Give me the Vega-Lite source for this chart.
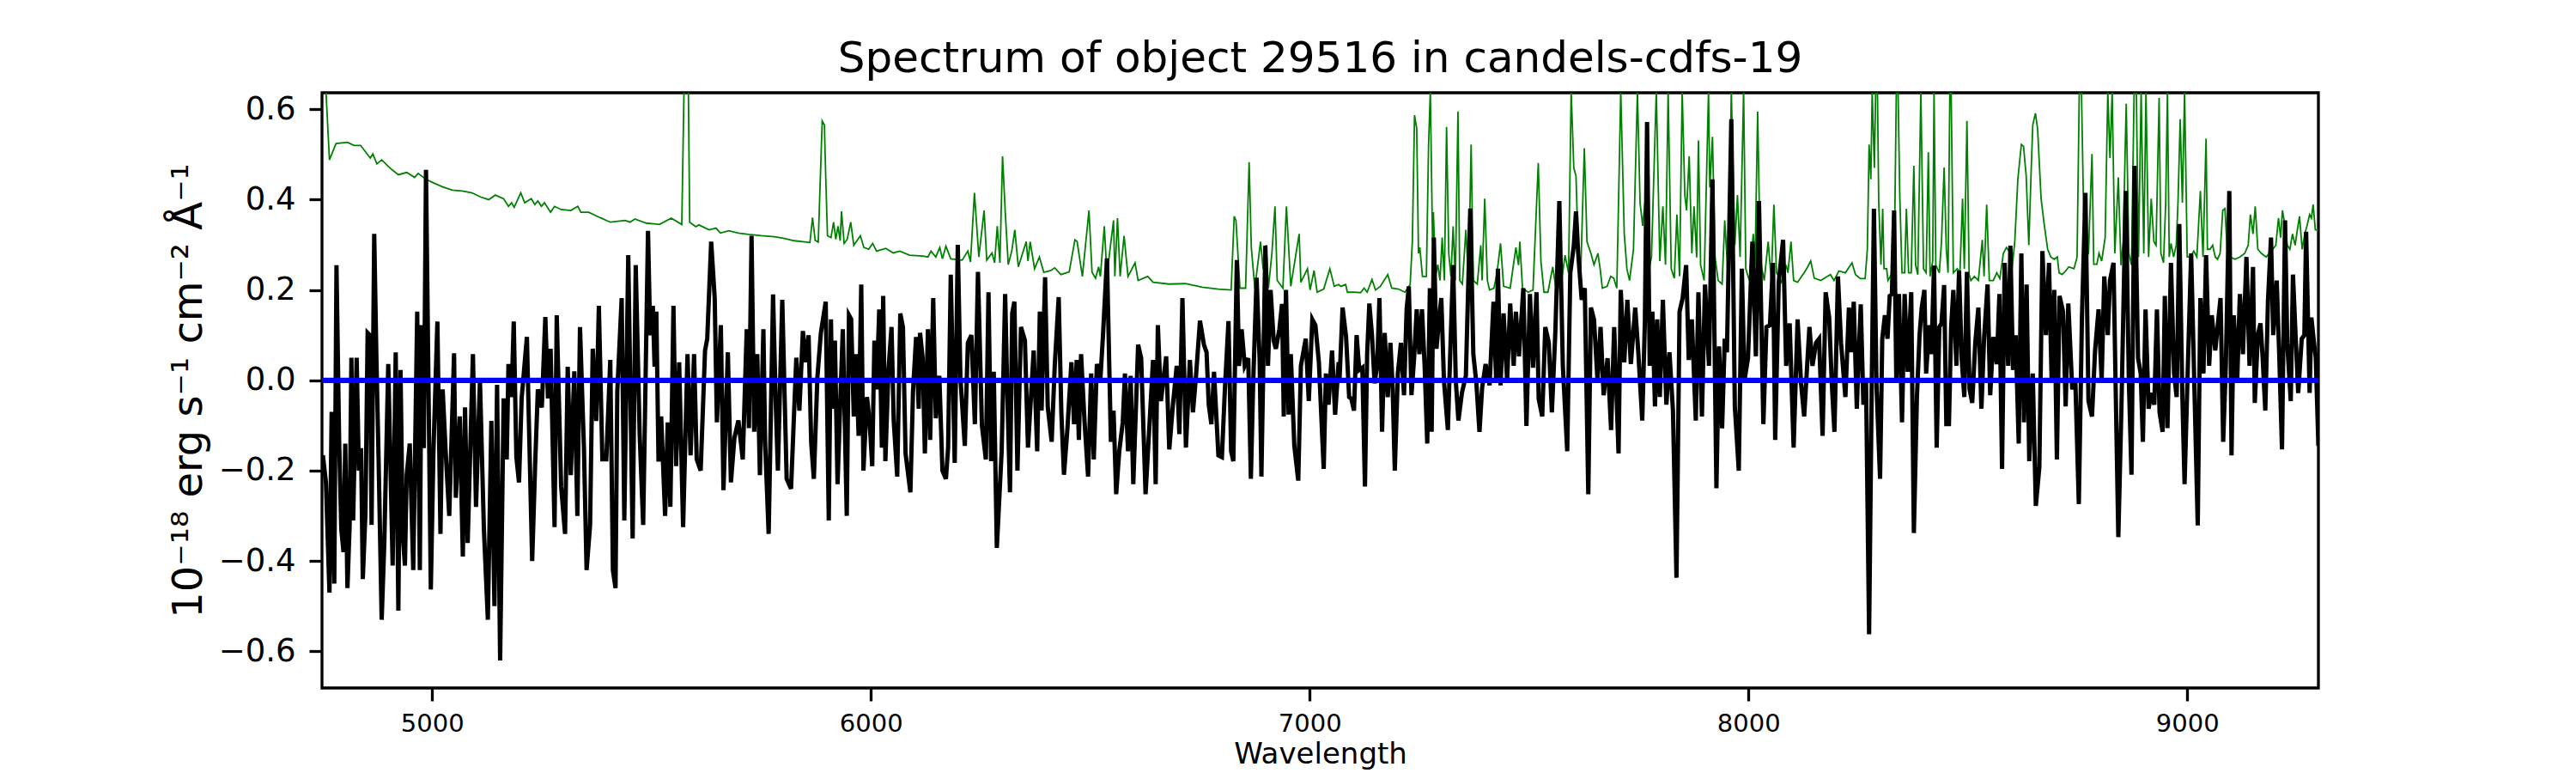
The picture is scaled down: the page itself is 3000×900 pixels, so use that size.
{
  "$schema": "https://vega.github.io/schema/vega-lite/v6.json",
  "description": "Spectrum of object 29516 in candels-cdfs-19: flux (black), error (green), zero level (blue)",
  "background": "white",
  "autosize": {"type": "none"},
  "padding": {"left": 375, "top": 108, "right": 300, "bottom": 99},
  "width": 2325,
  "height": 693,
  "title": {
    "text": "Spectrum of object 29516 in candels-cdfs-19",
    "fontSize": 50,
    "fontWeight": "normal",
    "color": "black",
    "anchor": "middle",
    "offset": 14
  },
  "datasets": {
    "flux": [
      {"w":4751,"f":-0.166},{"w":4758,"f":-0.226},{"w":4766,"f":-0.47},{"w":4771,"f":-0.07},{"w":4777,"f":-0.45},{"w":4782,"f":0.255},{"w":4788,"f":-0.13},{"w":4793,"f":-0.33},{"w":4798,"f":-0.38},{"w":4802,"f":-0.14},
      {"w":4807,"f":-0.46},{"w":4812,"f":-0.32},{"w":4816,"f":0.05},{"w":4820,"f":-0.31},{"w":4828,"f":0.05},{"w":4833,"f":-0.2},{"w":4838,"f":-0.15},{"w":4842,"f":-0.44},{"w":4848,"f":-0.295},{"w":4853,"f":0.105},
      {"w":4858,"f":0.1},{"w":4862,"f":-0.32},{"w":4868,"f":0.324},{"w":4873,"f":0.05},{"w":4878,"f":-0.175},{"w":4885,"f":-0.53},{"w":4891,"f":-0.36},{"w":4900,"f":0.036},{"w":4910,"f":-0.41},{"w":4917,"f":0.062},
      {"w":4923,"f":-0.51},{"w":4928,"f":0.023},{"w":4933,"f":-0.34},{"w":4938,"f":-0.41},{"w":4942,"f":-0.21},{"w":4949,"f":-0.14},{"w":4957,"f":-0.42},{"w":4966,"f":0.152},{"w":4972,"f":-0.42},{"w":4976,"f":0.122},
      {"w":4981,"f":-0.15},{"w":4986,"f":0.466},{"w":4992,"f":-0.037},{"w":4997,"f":-0.463},{"w":5003,"f":-0.157},{"w":5012,"f":0.13},{"w":5019,"f":-0.34},{"w":5024,"f":-0.02},{"w":5031,"f":-0.16},{"w":5039,"f":-0.3},
      {"w":5050,"f":0.06},{"w":5054,"f":-0.26},{"w":5063,"f":-0.08},{"w":5070,"f":-0.39},{"w":5075,"f":-0.06},{"w":5081,"f":-0.36},{"w":5093,"f":0.058},{"w":5100,"f":-0.28},{"w":5109,"f":0.0},{"w":5118,"f":-0.33},
      {"w":5127,"f":-0.53},{"w":5135,"f":-0.09},{"w":5142,"f":-0.5},{"w":5148,"f":-0.01},{"w":5155,"f":-0.62},{"w":5163,"f":-0.04},{"w":5170,"f":-0.175},{"w":5174,"f":0.036},{"w":5181,"f":-0.037},{"w":5186,"f":0.13},
      {"w":5192,"f":-0.17},{"w":5198,"f":-0.226},{"w":5204,"f":-0.04},{"w":5216,"f":0.096},{"w":5228,"f":-0.4},{"w":5235,"f":-0.18},{"w":5241,"f":-0.02},{"w":5250,"f":-0.06},{"w":5258,"f":0.14},{"w":5264,"f":-0.04},
      {"w":5270,"f":0.07},{"w":5279,"f":-0.325},{"w":5284,"f":0.144},{"w":5294,"f":-0.235},{"w":5303,"f":-0.34},{"w":5309,"f":0.03},{"w":5316,"f":-0.21},{"w":5324,"f":0.02},{"w":5331,"f":-0.3},{"w":5337,"f":0.118},
      {"w":5346,"f":-0.15},{"w":5352,"f":-0.42},{"w":5360,"f":-0.32},{"w":5366,"f":0.07},{"w":5374,"f":-0.09},{"w":5380,"f":0.165},{"w":5388,"f":-0.175},{"w":5397,"f":-0.175},{"w":5406,"f":0.045},{"w":5412,"f":-0.42},
      {"w":5418,"f":-0.46},{"w":5422,"f":-0.024},{"w":5432,"f":0.182},{"w":5438,"f":-0.31},{"w":5447,"f":0.277},{"w":5457,"f":-0.35},{"w":5464,"f":0.255},{"w":5473,"f":-0.12},{"w":5481,"f":-0.32},{"w":5492,"f":0.331},
      {"w":5497,"f":0.1},{"w":5503,"f":0.165},{"w":5507,"f":0.03},{"w":5511,"f":0.152},{"w":5516,"f":-0.18},{"w":5522,"f":-0.08},{"w":5531,"f":-0.3},{"w":5537,"f":-0.093},{"w":5543,"f":-0.28},{"w":5550,"f":0.165},
      {"w":5556,"f":-0.19},{"w":5563,"f":0.04},{"w":5572,"f":-0.325},{"w":5582,"f":0.058},{"w":5589,"f":-0.166},{"w":5597,"f":0.058},{"w":5603,"f":-0.175},{"w":5612,"f":-0.2},{"w":5622,"f":0.066},{"w":5627,"f":0.092},
      {"w":5636,"f":0.307},{"w":5644,"f":0.182},{"w":5649,"f":-0.093},{"w":5658,"f":0.122},{"w":5664,"f":-0.243},{"w":5674,"f":0.062},{"w":5681,"f":-0.226},{"w":5689,"f":-0.127},{"w":5698,"f":-0.089},{"w":5708,"f":-0.175},
      {"w":5717,"f":0.113},{"w":5722,"f":-0.106},{"w":5728,"f":0.32},{"w":5734,"f":-0.114},{"w":5741,"f":0.058},{"w":5747,"f":-0.21},{"w":5755,"f":0.113},{"w":5759,"f":-0.14},{"w":5767,"f":-0.34},{"w":5777,"f":0.19},
      {"w":5783,"f":-0.046},{"w":5788,"f":-0.2},{"w":5798,"f":0.178},{"w":5808,"f":-0.218},{"w":5818,"f":-0.24},{"w":5830,"f":0.05},{"w":5837,"f":-0.067},{"w":5845,"f":0.109},{"w":5852,"f":0.04},{"w":5858,"f":0.1},
      {"w":5864,"f":-0.14},{"w":5870,"f":-0.218},{"w":5878,"f":0.006},{"w":5886,"f":0.105},{"w":5897,"f":0.174},{"w":5904,"f":-0.31},{"w":5909,"f":0.135},
      {"w":5912,"f":-0.063},{"w":5918,"f":0.088},{"w":5924,"f":-0.23},{"w":5930,"f":-0.054},{"w":5936,"f":0.113},{"w":5945,"f":-0.3},{"w":5950,"f":0.144},{"w":5955,"f":0.135},{"w":5961,"f":-0.08},{"w":5966,"f":0.058},
      {"w":5972,"f":-0.123},{"w":5978,"f":0.212},{"w":5983,"f":-0.2},{"w":5991,"f":-0.037},{"w":5997,"f":-0.089},{"w":6003,"f":-0.19},{"w":6008,"f":0.088},{"w":6013,"f":-0.02},{"w":6019,"f":0.157},{"w":6025,"f":-0.149},
      {"w":6028,"f":0.187},{"w":6033,"f":-0.179},{"w":6040,"f":0.023},{"w":6047,"f":0.118},{"w":6052,"f":-0.089},{"w":6060,"f":-0.213},{"w":6067,"f":0.148},{"w":6073,"f":0.118},{"w":6079,"f":-0.162},{"w":6085,"f":-0.209},
      {"w":6090,"f":-0.248},{"w":6096,"f":-0.024},{"w":6103,"f":0.096},{"w":6109,"f":-0.063},{"w":6112,"f":0.105},{"w":6118,"f":0.049},{"w":6123,"f":-0.162},{"w":6130,"f":0.113},{"w":6135,"f":-0.132},{"w":6142,"f":0.182},
      {"w":6148,"f":-0.084},{"w":6156,"f":0.01},{"w":6163,"f":-0.2},{"w":6171,"f":-0.218},{"w":6176,"f":-0.149},{"w":6182,"f":0.234},{"w":6191,"f":-0.183},{"w":6198,"f":0.3},{"w":6204,"f":0.006},{"w":6214,"f":-0.145},
      {"w":6221,"f":0.083},{"w":6229,"f":0.1},{"w":6237,"f":-0.097},{"w":6244,"f":0.24},{"w":6253,"f":-0.1},{"w":6262,"f":-0.175},{"w":6268,"f":0.195},{"w":6274,"f":-0.179},{"w":6280,"f":0.019},{"w":6287,"f":-0.371},
      {"w":6298,"f":-0.157},{"w":6306,"f":0.191},{"w":6311,"f":-0.033},{"w":6317,"f":-0.248},{"w":6322,"f":0.148},{"w":6327,"f":0.174},{"w":6334,"f":-0.2},{"w":6342,"f":0.118},{"w":6351,"f":0.088},{"w":6358,"f":-0.149},
      {"w":6371,"f":0.066},{"w":6379,"f":-0.157},{"w":6385,"f":0.152},{"w":6389,"f":-0.067},{"w":6397,"f":0.228},{"w":6403,"f":-0.058},{"w":6412,"f":-0.136},{"w":6419,"f":0.032},{"w":6428,"f":0.184},{"w":6434,"f":-0.071},
      {"w":6440,"f":-0.209},{"w":6448,"f":-0.106},{"w":6457,"f":0.04},{"w":6463,"f":-0.097},{"w":6469,"f":0.045},{"w":6474,"f":-0.132},{"w":6479,"f":0.058},{"w":6487,"f":-0.093},{"w":6495,"f":-0.213},{"w":6502,"f":0.015},
      {"w":6508,"f":-0.175},{"w":6515,"f":0.036},{"w":6523,"f":0.002},{"w":6529,"f":0.1},{"w":6538,"f":0.27},{"w":6547,"f":-0.136},{"w":6553,"f":-0.067},{"w":6559,"f":-0.252},{"w":6566,"f":-0.157},{"w":6574,"f":-0.093},
      {"w":6579,"f":0.015},{"w":6586,"f":-0.157},{"w":6592,"f":0.01},{"w":6598,"f":-0.23},{"w":6609,"f":0.079},{"w":6616,"f":0.049},{"w":6626,"f":-0.252},{"w":6635,"f":-0.097},{"w":6643,"f":0.045},{"w":6649,"f":-0.23},
      {"w":6654,"f":0.122},{"w":6661,"f":-0.046},{"w":6673,"f":0.053},{"w":6680,"f":-0.153},{"w":6688,"f":-0.058},{"w":6697,"f":0.032},{"w":6703,"f":-0.119},{"w":6710,"f":0.182},{"w":6718,"f":-0.149},{"w":6727,"f":0.045},
      {"w":6734,"f":-0.071},{"w":6741,"f":0.01},{"w":6750,"f":0.132},{"w":6759,"f":0.079},{"w":6765,"f":0.062},{"w":6770,"f":-0.054},{"w":6776,"f":-0.097},{"w":6782,"f":0.019},{"w":6792,"f":-0.166},{"w":6800,"f":-0.17},
      {"w":6807,"f":-0.015},{"w":6815,"f":0.131},{"w":6821,"f":-0.157},{"w":6826,"f":-0.179},{"w":6834,"f":0.266},{"w":6839,"f":0.032},{"w":6845,"f":0.113},{"w":6852,"f":0.032},{"w":6860,"f":0.049},{"w":6866,"f":-0.218},
      {"w":6871,"f":-0.015},{"w":6879,"f":0.227},{"w":6886,"f":0.045},{"w":6890,"f":-0.213},{"w":6899,"f":0.298},{"w":6905,"f":0.032},{"w":6911,"f":0.2},{"w":6918,"f":0.088},{"w":6923,"f":0.07},{"w":6931,"f":0.113},
      {"w":6937,"f":0.169},{"w":6941,"f":-0.08},{"w":6946,"f":0.2},{"w":6952,"f":-0.076},{"w":6957,"f":0.058},{"w":6965,"f":-0.145},{"w":6974,"f":-0.222},{"w":6980,"f":0.032},{"w":6991,"f":0.092},{"w":6998,"f":-0.046},
      {"w":7006,"f":0.135},{"w":7013,"f":0.122},{"w":7021,"f":0.04},{"w":7032,"f":-0.196},{"w":7037,"f":0.015},{"w":7043,"f":-0.054},{"w":7051,"f":0.066},{"w":7058,"f":-0.076},{"w":7066,"f":0.04},
      {"w":7068,"f":0.0},{"w":7075,"f":0.161},{"w":7083,"f":0.096},{"w":7090,"f":-0.037},{"w":7095,"f":-0.041},{"w":7101,"f":-0.067},{"w":7107,"f":0.1},{"w":7113,"f":0.023},{"w":7120,"f":0.028},{"w":7126,"f":-0.235},
      {"w":7131,"f":0.058},{"w":7136,"f":0.17},{"w":7142,"f":0.1},{"w":7148,"f":-0.007},{"w":7154,"f":0.036},{"w":7159,"f":0.182},{"w":7165,"f":-0.114},{"w":7171,"f":0.105},{"w":7178,"f":-0.037},{"w":7184,"f":0.083},
      {"w":7189,"f":-0.011},{"w":7194,"f":-0.2},{"w":7201,"f":0.015},{"w":7208,"f":0.083},{"w":7215,"f":-0.033},{"w":7221,"f":0.157},{"w":7226,"f":0.208},{"w":7232,"f":-0.033},{"w":7238,"f":0.049},{"w":7244,"f":0.157},
      {"w":7250,"f":0.058},{"w":7256,"f":0.157},{"w":7262,"f":0.032},{"w":7268,"f":-0.14},{"w":7274,"f":0.204},{"w":7278,"f":-0.114},{"w":7283,"f":0.316},{"w":7289,"f":0.07},{"w":7294,"f":0.126},{"w":7300,"f":0.182},
      {"w":7306,"f":0.0},{"w":7315,"f":-0.11},{"w":7320,"f":0.049},{"w":7327,"f":0.255},{"w":7333,"f":0.0},{"w":7339,"f":-0.089},{"w":7347,"f":-0.028},{"w":7356,"f":0.01},{"w":7366,"f":0.38},{"w":7373,"f":0.058},
      {"w":7380,"f":-0.007},{"w":7387,"f":-0.114},{"w":7393,"f":-0.017},{"w":7401,"f":0.036},{"w":7410,"f":-0.011},{"w":7419,"f":0.174},{"w":7425,"f":0.0},{"w":7429,"f":0.247},{"w":7435,"f":-0.011},{"w":7442,"f":0.148},
      {"w":7450,"f":0.0},{"w":7457,"f":0.17},{"w":7465,"f":0.032},{"w":7470,"f":0.152},{"w":7477,"f":0.053},{"w":7487,"f":0.204},{"w":7494,"f":-0.101},{"w":7502,"f":0.191},{"w":7509,"f":0.028},{"w":7517,"f":0.195},
      {"w":7522,"f":-0.041},{"w":7530,"f":-0.08},{"w":7537,"f":0.118},{"w":7545,"f":0.083},{"w":7552,"f":-0.071},{"w":7560,"f":0.109},{"w":7569,"f":0.397},{"w":7577,"f":0.032},{"w":7587,"f":-0.157},{"w":7594,"f":0.238},
      {"w":7602,"f":0.298},{"w":7607,"f":0.374},{"w":7612,"f":0.281},{"w":7620,"f":0.178},{"w":7627,"f":0.204},{"w":7635,"f":-0.252},{"w":7641,"f":0.161},{"w":7648,"f":0.135},{"w":7656,"f":0.0},{"w":7663,"f":0.118},
      {"w":7670,"f":-0.033},{"w":7679,"f":0.049},{"w":7687,"f":-0.11},{"w":7694,"f":0.118},{"w":7704,"f":-0.162},{"w":7709,"f":0.2},{"w":7717,"f":0.04},{"w":7724,"f":0.178},{"w":7732,"f":0.036},{"w":7742,"f":0.161},
      {"w":7749,"f":0.062},{"w":7758,"f":-0.089},{"w":7764,"f":0.131},{"w":7769,"f":0.572},{"w":7775,"f":0.032},{"w":7781,"f":0.152},{"w":7787,"f":-0.058},{"w":7792,"f":0.135},{"w":7798,"f":-0.037},{"w":7805,"f":0.178},
      {"w":7813,"f":-0.054},{"w":7820,"f":0.062},{"w":7828,"f":-0.067},{"w":7836,"f":-0.437},{"w":7843,"f":0.152},{"w":7850,"f":0.182},{"w":7858,"f":0.255},{"w":7864,"f":0.045},{"w":7871,"f":0.135},{"w":7880,"f":-0.089},
      {"w":7886,"f":0.195},{"w":7894,"f":-0.08},{"w":7901,"f":0.212},{"w":7910,"f":0.032},{"w":7918,"f":0.445},{"w":7927,"f":-0.239},{"w":7933,"f":0.075},{"w":7940,"f":-0.106},{"w":7946,"f":0.092},{"w":7951,"f":0.062},
      {"w":7961,"f":0.578},{"w":7969,"f":-0.058},{"w":7978,"f":-0.2},{"w":7985,"f":0.247},{"w":7991,"f":0.0},{"w":7999,"f":0.049},{"w":8009,"f":0.307},{"w":8017,"f":0.053},{"w":8024,"f":0.397},{"w":8034,"f":-0.097},
      {"w":8041,"f":0.118},{"w":8049,"f":0.122},{"w":8056,"f":0.26},{"w":8061,"f":-0.132},{"w":8069,"f":0.217},{"w":8079,"f":0.311},{"w":8086,"f":0.032},{"w":8094,"f":0.126},{"w":8103,"f":-0.149},{"w":8112,"f":0.135},
      {"w":8120,"f":-0.007},{"w":8127,"f":-0.08},{"w":8139,"f":0.118},{"w":8146,"f":0.032},{"w":8154,"f":0.083},{"w":8161,"f":0.092},{"w":8169,"f":-0.123},{"w":8176,"f":0.195},{"w":8184,"f":0.139},{"w":8190,"f":-0.007},
      {"w":8196,"f":-0.114},{"w":8204,"f":0.23},{"w":8211,"f":0.083},{"w":8221,"f":-0.037},
      {"w":8229,"f":0.161},{"w":8235,"f":0.062},{"w":8240,"f":0.174},{"w":8247,"f":-0.063},{"w":8251,"f":0.049},{"w":8256,"f":0.168},{"w":8262,"f":-0.054},{"w":8268,"f":0.0},{"w":8275,"f":-0.562},{"w":8281,"f":-0.011},
      {"w":8286,"f":0.38},{"w":8292,"f":-0.015},{"w":8300,"f":-0.218},{"w":8305,"f":0.092},{"w":8311,"f":0.144},{"w":8317,"f":0.092},{"w":8322,"f":0.187},{"w":8327,"f":0.191},{"w":8332,"f":0.376},{"w":8337,"f":0.002},
      {"w":8343,"f":0.191},{"w":8350,"f":-0.093},{"w":8356,"f":0.191},{"w":8363,"f":0.019},{"w":8371,"f":0.195},{"w":8377,"f":-0.338},{"w":8384,"f":-0.037},{"w":8390,"f":0.1},{"w":8395,"f":0.161},{"w":8401,"f":0.2},
      {"w":8405,"f":0.015},{"w":8412,"f":0.122},{"w":8417,"f":0.058},{"w":8423,"f":0.254},{"w":8429,"f":-0.149},{"w":8435,"f":0.118},{"w":8440,"f":0.126},{"w":8446,"f":0.211},{"w":8451,"f":-0.097},{"w":8457,"f":-0.097},
      {"w":8462,"f":0.118},{"w":8467,"f":0.2},{"w":8474,"f":0.032},{"w":8480,"f":0.243},{"w":8486,"f":0.049},{"w":8492,"f":-0.037},{"w":8498,"f":0.24},{"w":8504,"f":-0.02},{"w":8510,"f":-0.05},{"w":8517,"f":0.083},
      {"w":8524,"f":0.161},{"w":8531,"f":-0.063},{"w":8537,"f":0.092},{"w":8545,"f":0.212},{"w":8551,"f":-0.033},{"w":8558,"f":0.096},{"w":8566,"f":0.036},{"w":8572,"f":0.191},{"w":8578,"f":-0.196},{"w":8584,"f":0.26},
      {"w":8592,"f":0.032},{"w":8597,"f":0.298},{"w":8603,"f":0.023},{"w":8609,"f":0.1},{"w":8616,"f":-0.14},{"w":8622,"f":0.281},{"w":8628,"f":-0.093},{"w":8634,"f":0.212},{"w":8640,"f":-0.179},{"w":8648,"f":0.015},
      {"w":8655,"f":-0.278},{"w":8663,"f":-0.192},{"w":8670,"f":0.286},{"w":8678,"f":0.1},{"w":8685,"f":0.26},{"w":8691,"f":0.0},{"w":8697,"f":0.2},{"w":8703,"f":-0.175},{"w":8709,"f":0.187},{"w":8717,"f":0.152},
      {"w":8723,"f":-0.058},{"w":8729,"f":0.17},{"w":8738,"f":-0.02},{"w":8745,"f":0.0},{"w":8753,"f":-0.274},{"w":8760,"f":0.135},{"w":8768,"f":0.415},{"w":8775,"f":-0.046},{"w":8783,"f":-0.08},{"w":8790,"f":0.066},
      {"w":8798,"f":0.157},{"w":8805,"f":0.0},{"w":8811,"f":0.23},{"w":8819,"f":0.1},{"w":8824,"f":0.221},{"w":8832,"f":0.26},{"w":8837,"f":-0.02},{"w":8843,"f":-0.347},{"w":8850,"f":-0.063},{"w":8860,"f":0.419},
      {"w":8867,"f":0.0},{"w":8873,"f":-0.209},{"w":8880,"f":0.475},{"w":8888,"f":0.049},{"w":8894,"f":0.015},{"w":8899,"f":-0.136},{"w":8905,"f":0.157},{"w":8912,"f":-0.063},{"w":8918,"f":-0.028},{"w":8925,"f":-0.054},
      {"w":8931,"f":0.157},{"w":8937,"f":-0.071},{"w":8944,"f":-0.114},{"w":8949,"f":0.187},{"w":8955,"f":-0.106},{"w":8963,"f":0.26},{"w":8970,"f":0.015},{"w":8976,"f":-0.037},{"w":8982,"f":0.346},{"w":8989,"f":-0.037},
      {"w":8994,"f":-0.23},{"w":9001,"f":0.015},{"w":9009,"f":0.281},{"w":9016,"f":0.0},{"w":9024,"f":-0.321},{"w":9030,"f":0.182},{"w":9037,"f":0.015},{"w":9043,"f":0.277},{"w":9050,"f":0.032},{"w":9056,"f":0.144},
      {"w":9064,"f":0.066},{"w":9071,"f":0.135},{"w":9076,"f":0.182},{"w":9082,"f":-0.136},{"w":9088,"f":0.032},{"w":9096,"f":0.419},{"w":9101,"f":-0.166},{"w":9106,"f":0.144},{"w":9114,"f":0.0},{"w":9120,"f":0.191},
      {"w":9127,"f":0.058},{"w":9135,"f":0.273},{"w":9142,"f":0.032},{"w":9150,"f":0.251},{"w":9154,"f":-0.05},{"w":9161,"f":0.1},{"w":9167,"f":0.126},{"w":9172,"f":0.049},{"w":9178,"f":-0.067},{"w":9184,"f":0.174},
      {"w":9191,"f":0.316},{"w":9196,"f":0.1},{"w":9204,"f":0.221},{"w":9210,"f":0.049},{"w":9216,"f":-0.153},{"w":9223,"f":0.354},{"w":9228,"f":0.083},{"w":9236,"f":-0.046},{"w":9241,"f":0.234},{"w":9247,"f":0.1},
      {"w":9253,"f":-0.028},{"w":9261,"f":0.092},{"w":9267,"f":0.1},{"w":9271,"f":0.329},{"w":9279,"f":-0.028},{"w":9283,"f":0.139},{"w":9289,"f":0.083},{"w":9293,"f":0.05},{"w":9299,"f":-0.145}
    ],
    "err": [
      {"w":4751,"e":0.64},{"w":4758,"e":0.64},{"w":4766,"e":0.488},{"w":4781,"e":0.524},{"w":4799,"e":0.526},{"w":4807,"e":0.527},{"w":4822,"e":0.52},{"w":4837,"e":0.52},{"w":4859,"e":0.492},{"w":4865,"e":0.501},
      {"w":4874,"e":0.479},{"w":4885,"e":0.488},{"w":4904,"e":0.47},{"w":4923,"e":0.455},{"w":4942,"e":0.46},{"w":4960,"e":0.449},{"w":4968,"e":0.458},{"w":4986,"e":0.445},{"w":5001,"e":0.438},{"w":5024,"e":0.428},
      {"w":5046,"e":0.421},{"w":5069,"e":0.419},{"w":5091,"e":0.415},{"w":5110,"e":0.406},{"w":5129,"e":0.4},{"w":5144,"e":0.41},{"w":5163,"e":0.402},{"w":5174,"e":0.385},{"w":5181,"e":0.393},{"w":5187,"e":0.383},
      {"w":5202,"e":0.415},{"w":5211,"e":0.393},{"w":5226,"e":0.402},{"w":5234,"e":0.389},{"w":5241,"e":0.397},{"w":5249,"e":0.385},{"w":5256,"e":0.393},{"w":5270,"e":0.372},{"w":5279,"e":0.385},{"w":5294,"e":0.378},
      {"w":5316,"e":0.376},{"w":5332,"e":0.385},{"w":5339,"e":0.372},{"w":5357,"e":0.372},{"w":5383,"e":0.36},{"w":5406,"e":0.35},{"w":5440,"e":0.354},{"w":5451,"e":0.35},{"w":5462,"e":0.357},{"w":5488,"e":0.348},
      {"w":5518,"e":0.345},{"w":5545,"e":0.359},{"w":5569,"e":0.345},{"w":5574,"e":0.64},{"w":5584,"e":0.64},{"w":5587,"e":0.35},{"w":5601,"e":0.34},{"w":5608,"e":0.344},{"w":5631,"e":0.333},{"w":5647,"e":0.337},
      {"w":5657,"e":0.326},{"w":5676,"e":0.331},{"w":5698,"e":0.326},{"w":5721,"e":0.323},{"w":5750,"e":0.32},{"w":5780,"e":0.318},{"w":5803,"e":0.314},{"w":5825,"e":0.309},{"w":5861,"e":0.305},{"w":5867,"e":0.36},
      {"w":5873,"e":0.31},{"w":5880,"e":0.306},{"w":5889,"e":0.574},{"w":5894,"e":0.565},{"w":5897,"e":0.453},{"w":5901,"e":0.32},{"w":5909,"e":0.316},{"w":5915,"e":0.35},{"w":5920,"e":0.312},{"w":5925,"e":0.341},
      {"w":5930,"e":0.309},{"w":5933,"e":0.374},{"w":5939,"e":0.303},{"w":5946,"e":0.312},{"w":5954,"e":0.35},{"w":5961,"e":0.299},{"w":5976,"e":0.32},{"w":5984,"e":0.294},{"w":5995,"e":0.29},{"w":6004,"e":0.303},
      {"w":6013,"e":0.286},{"w":6034,"e":0.292},{"w":6051,"e":0.282},{"w":6066,"e":0.286},{"w":6088,"e":0.277},{"w":6118,"e":0.275},{"w":6130,"e":0.273},{"w":6137,"e":0.286},{"w":6148,"e":0.273},{"w":6157,"e":0.294},
      {"w":6163,"e":0.269},{"w":6171,"e":0.297},{"w":6182,"e":0.269},{"w":6208,"e":0.266},{"w":6221,"e":0.286},{"w":6227,"e":0.262},{"w":6236,"e":0.415},{"w":6246,"e":0.273},{"w":6258,"e":0.376},{"w":6264,"e":0.266},
      {"w":6276,"e":0.282},{"w":6282,"e":0.26},{"w":6288,"e":0.341},{"w":6294,"e":0.26},{"w":6300,"e":0.496},{"w":6306,"e":0.376},{"w":6313,"e":0.256},{"w":6321,"e":0.286},{"w":6328,"e":0.333},{"w":6336,"e":0.251},
      {"w":6354,"e":0.307},{"w":6358,"e":0.264},{"w":6363,"e":0.307},{"w":6373,"e":0.247},{"w":6384,"e":0.273},{"w":6394,"e":0.239},{"w":6410,"e":0.243},{"w":6419,"e":0.249},{"w":6433,"e":0.234},{"w":6452,"e":0.24},
      {"w":6465,"e":0.311},{"w":6470,"e":0.307},{"w":6482,"e":0.23},{"w":6497,"e":0.376},{"w":6504,"e":0.239},{"w":6512,"e":0.226},{"w":6519,"e":0.251},{"w":6523,"e":0.23},{"w":6532,"e":0.341},{"w":6538,"e":0.234},
      {"w":6553,"e":0.354},{"w":6556,"e":0.23},{"w":6562,"e":0.359},{"w":6568,"e":0.23},{"w":6577,"e":0.32},{"w":6586,"e":0.23},{"w":6602,"e":0.26},{"w":6609,"e":0.221},{"w":6631,"e":0.23},{"w":6643,"e":0.217},
      {"w":6680,"e":0.213},{"w":6717,"e":0.214},{"w":6755,"e":0.206},{"w":6792,"e":0.202},{"w":6821,"e":0.2},{"w":6828,"e":0.363},{"w":6832,"e":0.354},{"w":6841,"e":0.204},{"w":6854,"e":0.204},{"w":6862,"e":0.483},
      {"w":6867,"e":0.294},{"w":6875,"e":0.204},{"w":6888,"e":0.307},{"w":6894,"e":0.247},{"w":6901,"e":0.3},{"w":6906,"e":0.204},{"w":6914,"e":0.282},{"w":6921,"e":0.385},{"w":6926,"e":0.221},{"w":6939,"e":0.204},
      {"w":6947,"e":0.385},{"w":6957,"e":0.208},{"w":6976,"e":0.324},{"w":6980,"e":0.217},{"w":6995,"e":0.247},{"w":7001,"e":0.2},{"w":7010,"e":0.243},{"w":7017,"e":0.195},{"w":7032,"e":0.202},{"w":7046,"e":0.247},
      {"w":7056,"e":0.208},{"w":7066,"e":0.212},{"w":7071,"e":0.208},{"w":7082,"e":0.212},{"w":7086,"e":0.195},{"w":7101,"e":0.195},{"w":7116,"e":0.194},{"w":7124,"e":0.204},{"w":7131,"e":0.195},{"w":7142,"e":0.223},
      {"w":7150,"e":0.2},{"w":7161,"e":0.208},{"w":7178,"e":0.234},{"w":7187,"e":0.204},{"w":7202,"e":0.202},{"w":7217,"e":0.195},{"w":7229,"e":0.212},{"w":7234,"e":0.307},{"w":7239,"e":0.587},{"w":7244,"e":0.557},
      {"w":7248,"e":0.281},{"w":7251,"e":0.294},{"w":7257,"e":0.23},{"w":7266,"e":0.23},{"w":7271,"e":0.522},{"w":7275,"e":0.64},{"w":7280,"e":0.307},{"w":7282,"e":0.372},{"w":7287,"e":0.23},{"w":7292,"e":0.256},
      {"w":7297,"e":0.221},{"w":7302,"e":0.316},{"w":7307,"e":0.221},{"w":7312,"e":0.561},{"w":7317,"e":0.281},{"w":7322,"e":0.23},{"w":7327,"e":0.341},{"w":7332,"e":0.221},{"w":7338,"e":0.595},{"w":7342,"e":0.221},
      {"w":7348,"e":0.213},{"w":7356,"e":0.333},{"w":7362,"e":0.221},{"w":7368,"e":0.522},{"w":7373,"e":0.221},{"w":7382,"e":0.213},{"w":7390,"e":0.299},{"w":7393,"e":0.221},{"w":7399,"e":0.402},{"w":7405,"e":0.221},
      {"w":7410,"e":0.2},{"w":7420,"e":0.204},{"w":7427,"e":0.238},{"w":7435,"e":0.303},{"w":7442,"e":0.208},{"w":7457,"e":0.204},{"w":7470,"e":0.294},{"w":7476,"e":0.255},{"w":7479,"e":0.307},{"w":7485,"e":0.204},
      {"w":7498,"e":0.195},{"w":7509,"e":0.2},{"w":7521,"e":0.481},{"w":7527,"e":0.264},{"w":7534,"e":0.195},{"w":7543,"e":0.195},{"w":7554,"e":0.251},{"w":7562,"e":0.2},{"w":7573,"e":0.213},{"w":7582,"e":0.277},
      {"w":7590,"e":0.238},{"w":7596,"e":0.64},{"w":7602,"e":0.47},{"w":7607,"e":0.452},{"w":7612,"e":0.29},{"w":7618,"e":0.247},{"w":7626,"e":0.514},{"w":7632,"e":0.307},{"w":7641,"e":0.281},{"w":7648,"e":0.256},
      {"w":7657,"e":0.281},{"w":7662,"e":0.247},{"w":7667,"e":0.204},{"w":7678,"e":0.208},{"w":7686,"e":0.23},{"w":7693,"e":0.226},{"w":7700,"e":0.204},{"w":7709,"e":0.64},{"w":7717,"e":0.324},{"w":7723,"e":0.247},
      {"w":7729,"e":0.221},{"w":7738,"e":0.29},{"w":7747,"e":0.64},{"w":7753,"e":0.393},{"w":7759,"e":0.342},{"w":7764,"e":0.393},{"w":7772,"e":0.238},{"w":7779,"e":0.273},{"w":7790,"e":0.64},{"w":7798,"e":0.264},
      {"w":7805,"e":0.385},{"w":7811,"e":0.256},{"w":7817,"e":0.64},{"w":7824,"e":0.247},{"w":7831,"e":0.226},{"w":7837,"e":0.367},{"w":7843,"e":0.23},{"w":7849,"e":0.64},{"w":7855,"e":0.41},{"w":7859,"e":0.376},
      {"w":7865,"e":0.496},{"w":7871,"e":0.281},{"w":7876,"e":0.385},{"w":7882,"e":0.272},{"w":7886,"e":0.531},{"w":7891,"e":0.255},{"w":7899,"e":0.221},{"w":7909,"e":0.64},{"w":7912,"e":0.427},{"w":7918,"e":0.539},
      {"w":7924,"e":0.272},{"w":7931,"e":0.221},{"w":7940,"e":0.213},{"w":7946,"e":0.354},{"w":7954,"e":0.221},{"w":7961,"e":0.64},{"w":7969,"e":0.299},{"w":7975,"e":0.41},{"w":7981,"e":0.273},{"w":7989,"e":0.64},
      {"w":7994,"e":0.247},{"w":8002,"e":0.221},{"w":8011,"e":0.324},{"w":8015,"e":0.256},{"w":8021,"e":0.595},{"w":8027,"e":0.264},{"w":8036,"e":0.221},{"w":8045,"e":0.307},{"w":8052,"e":0.221},{"w":8058,"e":0.389},
      {"w":8064,"e":0.238},{"w":8075,"e":0.217},{"w":8086,"e":0.255},{"w":8090,"e":0.238},{"w":8097,"e":0.307},{"w":8103,"e":0.221},{"w":8112,"e":0.217},{"w":8127,"e":0.238},{"w":8135,"e":0.251},{"w":8142,"e":0.264},
      {"w":8150,"e":0.226},{"w":8165,"e":0.221},{"w":8180,"e":0.23},{"w":8187,"e":0.234},{"w":8195,"e":0.221},{"w":8206,"e":0.242},{"w":8221,"e":0.238},{"w":8236,"e":0.26},{"w":8244,"e":0.234},{"w":8255,"e":0.225},
      {"w":8266,"e":0.225},{"w":8271,"e":0.29},{"w":8275,"e":0.522},{"w":8279,"e":0.445},{"w":8282,"e":0.64},{"w":8287,"e":0.47},{"w":8290,"e":0.64},{"w":8294,"e":0.64},{"w":8297,"e":0.393},{"w":8302,"e":0.256},
      {"w":8306,"e":0.38},{"w":8309,"e":0.247},{"w":8315,"e":0.247},{"w":8318,"e":0.221},{"w":8326,"e":0.234},{"w":8333,"e":0.311},{"w":8337,"e":0.64},{"w":8341,"e":0.64},{"w":8345,"e":0.406},{"w":8350,"e":0.238},
      {"w":8356,"e":0.238},{"w":8360,"e":0.38},{"w":8365,"e":0.238},{"w":8371,"e":0.238},{"w":8377,"e":0.475},{"w":8381,"e":0.255},{"w":8386,"e":0.234},{"w":8393,"e":0.64},{"w":8399,"e":0.247},{"w":8405,"e":0.238},
      {"w":8410,"e":0.505},{"w":8414,"e":0.23},{"w":8420,"e":0.264},{"w":8423,"e":0.64},{"w":8427,"e":0.255},{"w":8435,"e":0.238},{"w":8440,"e":0.307},{"w":8446,"e":0.471},{"w":8451,"e":0.29},{"w":8455,"e":0.238},
      {"w":8459,"e":0.64},{"w":8462,"e":0.64},{"w":8467,"e":0.238},{"w":8476,"e":0.247},{"w":8482,"e":0.238},{"w":8488,"e":0.402},{"w":8492,"e":0.247},{"w":8498,"e":0.574},{"w":8503,"e":0.234},{"w":8507,"e":0.221},
      {"w":8515,"e":0.23},{"w":8524,"e":0.221},{"w":8533,"e":0.311},{"w":8537,"e":0.23},{"w":8543,"e":0.389},{"w":8549,"e":0.221},{"w":8558,"e":0.221},{"w":8566,"e":0.238},{"w":8573,"e":0.225},{"w":8581,"e":0.281},
      {"w":8588,"e":0.294},{"w":8594,"e":0.286},{"w":8599,"e":0.23},{"w":8607,"e":0.307},{"w":8614,"e":0.445},{"w":8622,"e":0.522},{"w":8627,"e":0.518},{"w":8633,"e":0.453},{"w":8639,"e":0.299},{"w":8644,"e":0.453},
      {"w":8648,"e":0.565},{"w":8654,"e":0.591},{"w":8659,"e":0.557},{"w":8667,"e":0.402},{"w":8674,"e":0.346},{"w":8682,"e":0.29},{"w":8689,"e":0.273},{"w":8697,"e":0.268},{"w":8704,"e":0.273},{"w":8708,"e":0.238},
      {"w":8715,"e":0.234},{"w":8723,"e":0.242},{"w":8730,"e":0.251},{"w":8742,"e":0.247},{"w":8749,"e":0.273},{"w":8754,"e":0.64},{"w":8759,"e":0.64},{"w":8764,"e":0.367},{"w":8769,"e":0.273},{"w":8775,"e":0.281},
      {"w":8783,"e":0.501},{"w":8787,"e":0.257},{"w":8794,"e":0.257},{"w":8799,"e":0.281},{"w":8805,"e":0.264},{"w":8813,"e":0.316},{"w":8819,"e":0.64},{"w":8824,"e":0.492},{"w":8829,"e":0.64},{"w":8835,"e":0.281},
      {"w":8843,"e":0.449},{"w":8849,"e":0.255},{"w":8854,"e":0.307},{"w":8861,"e":0.612},{"w":8867,"e":0.281},{"w":8873,"e":0.255},{"w":8879,"e":0.64},{"w":8884,"e":0.64},{"w":8889,"e":0.273},{"w":8895,"e":0.64},
      {"w":8901,"e":0.281},{"w":8906,"e":0.64},{"w":8912,"e":0.273},{"w":8918,"e":0.402},{"w":8924,"e":0.307},{"w":8929,"e":0.299},{"w":8936,"e":0.625},{"w":8940,"e":0.281},{"w":8946,"e":0.26},{"w":8951,"e":0.393},
      {"w":8955,"e":0.64},{"w":8959,"e":0.273},{"w":8963,"e":0.303},{"w":8969,"e":0.273},{"w":8975,"e":0.299},{"w":8979,"e":0.393},{"w":8984,"e":0.578},{"w":8989,"e":0.393},{"w":8994,"e":0.64},{"w":9000,"e":0.273},
      {"w":9007,"e":0.273},{"w":9015,"e":0.286},{"w":9022,"e":0.273},{"w":9030,"e":0.419},{"w":9036,"e":0.273},{"w":9043,"e":0.535},{"w":9046,"e":0.29},{"w":9052,"e":0.29},{"w":9058,"e":0.299},{"w":9064,"e":0.273},
      {"w":9069,"e":0.268},{"w":9075,"e":0.281},{"w":9081,"e":0.376},{"w":9086,"e":0.38},{"w":9091,"e":0.29},{"w":9097,"e":0.273},{"w":9109,"e":0.268},{"w":9120,"e":0.273},{"w":9131,"e":0.281},{"w":9139,"e":0.299},
      {"w":9144,"e":0.367},{"w":9150,"e":0.324},{"w":9155,"e":0.385},{"w":9161,"e":0.29},{"w":9169,"e":0.281},{"w":9180,"e":0.273},{"w":9187,"e":0.281},{"w":9195,"e":0.29},{"w":9202,"e":0.299},{"w":9208,"e":0.359},
      {"w":9213,"e":0.316},{"w":9217,"e":0.376},{"w":9223,"e":0.342},{"w":9228,"e":0.299},{"w":9234,"e":0.29},{"w":9240,"e":0.324},{"w":9246,"e":0.299},{"w":9251,"e":0.333},{"w":9256,"e":0.363},{"w":9262,"e":0.29},
      {"w":9268,"e":0.324},{"w":9273,"e":0.342},{"w":9279,"e":0.367},{"w":9283,"e":0.359},{"w":9287,"e":0.389},{"w":9292,"e":0.333},{"w":9299,"e":0.333}
    ],
    "zero": [{"level": 0}]
  },
  "layer": [
    {
      "data": {"name": "err"},
      "mark": {"type": "line", "color": "#008000", "strokeWidth": 1.8, "clip": true},
      "encoding": {
        "x": {
          "field": "w",
          "type": "quantitative",
          "scale": {"domain": [4749, 9299], "nice": false, "zero": false},
          "axis": {
            "title": "Wavelength",
            "values": [5000, 6000, 7000, 8000, 9000],
            "format": "d",
            "labelFontSize": 29,
            "labelPadding": 12,
            "titleFontSize": 34,
            "titlePadding": 4
          }
        },
        "y": {
          "field": "e",
          "type": "quantitative",
          "scale": {"domain": [-0.681, 0.6365], "nice": false, "zero": false},
          "axis": {
            "title": "10⁻¹⁸ erg s⁻¹ cm⁻² Å⁻¹",
            "values": [-0.6, -0.4, -0.2, 0, 0.2, 0.4, 0.6],
            "format": ".1f",
            "labelFontSize": 37,
            "labelPadding": 16,
            "titleFontSize": 48,
            "titlePadding": 10
          }
        }
      }
    },
    {
      "data": {"name": "flux"},
      "mark": {"type": "line", "color": "black", "strokeWidth": 5, "clip": true},
      "encoding": {
        "x": {"field": "w", "type": "quantitative"},
        "y": {"field": "f", "type": "quantitative"}
      }
    },
    {
      "data": {"name": "zero"},
      "mark": {"type": "rule", "color": "#0000ff", "strokeWidth": 6.3},
      "encoding": {
        "y": {"field": "level", "type": "quantitative"}
      }
    }
  ],
  "config": {
    "font": "DejaVu Sans",
    "view": {"stroke": "black", "strokeWidth": 3.3},
    "axis": {
      "grid": false,
      "domain": false,
      "ticks": true,
      "tickSize": 15,
      "tickWidth": 3.3,
      "tickColor": "black",
      "labelColor": "black",
      "titleColor": "black",
      "titleFontWeight": "normal",
      "labelFont": "DejaVu Sans",
      "titleFont": "DejaVu Sans"
    }
  }
}
